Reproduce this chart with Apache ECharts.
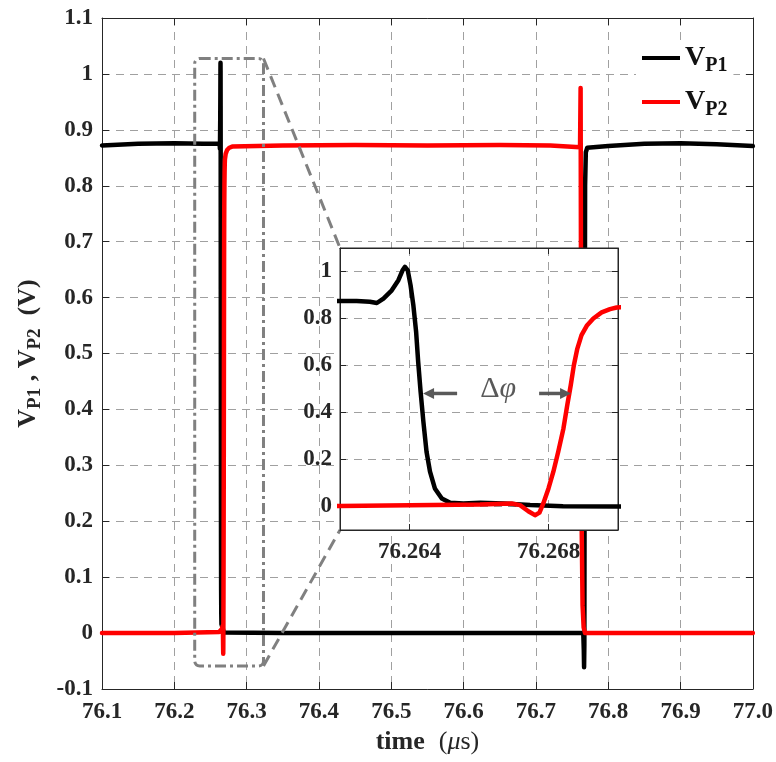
<!DOCTYPE html>
<html><head><meta charset="utf-8">
<script src="https://cdn.jsdelivr.net/npm/echarts@6/dist/echarts.min.js"></script>
<style>html,body{margin:0;padding:0;background:#fff}#c{width:776px;height:762px}</style>
</head><body><div id="c"></div>
<script>
// ---------- data (time in µs, voltage in V) ----------
const tP1 = [76.100, 76.150, 76.200, 76.240, 76.2620, 76.26248, 76.26286, 76.26306, 76.26325, 76.26349, 76.26368, 76.26380, 76.26387, 76.26395, 76.26403, 76.26411, 76.26419, 76.26425, 76.26432, 76.26440, 76.26449, 76.26459, 76.26473, 76.26493, 76.26517, 76.26555, 76.26603, 76.26670, 76.26747, 76.26842, 76.26996, 76.350, 76.450, 76.550, 76.650, 76.7655, 76.7662, 76.7666, 76.7670, 76.7675, 76.7680, 76.7690, 76.7710, 76.800, 76.850, 76.900, 76.950, 77.000];
const vP1 = [0.872, 0.875, 0.876, 0.875, 0.875, 0.874, 0.871, 0.866, 0.885, 0.920, 0.963, 1.005, 1.020, 1.005, 0.942, 0.857, 0.744, 0.615, 0.488, 0.360, 0.233, 0.148, 0.077, 0.034, 0.016, 0.013, 0.016, 0.013, 0.006, 0.001, 0.000, 0.000, 0.000, 0.000, 0.000, 0.000, -0.030, -0.061, -0.020, 0.450, 0.800, 0.860, 0.868, 0.871, 0.875, 0.876, 0.874, 0.871];
const tP2 = [76.100, 76.200, 76.2620, 76.26603, 76.26694, 76.26718, 76.26742, 76.26761, 76.26774, 76.26785, 76.26800, 76.26814, 76.26828, 76.26843, 76.26854, 76.26864, 76.26873, 76.26883, 76.26895, 76.26910, 76.26929, 76.26953, 76.26977, 76.26996, 76.2710, 76.2730, 76.2760, 76.2800, 76.350, 76.450, 76.550, 76.650, 76.720, 76.7610, 76.7618, 76.7624, 76.7632, 76.7645, 76.7660, 76.7680, 76.7700, 76.800, 76.900, 77.000];
const vP2 = [0.000, 0.000, 0.002, 0.008, 0.013, 0.006, -0.020, -0.037, -0.026, 0.013, 0.077, 0.148, 0.233, 0.332, 0.431, 0.516, 0.601, 0.672, 0.729, 0.769, 0.800, 0.826, 0.840, 0.847, 0.857, 0.864, 0.868, 0.870, 0.872, 0.873, 0.872, 0.873, 0.872, 0.869, 0.975, 0.600, 0.200, 0.050, 0.010, 0.000, 0.000, 0.000, 0.000, 0.000];
const seriesNames = ['VP1', 'VP2'];
const mainXRange = [76.1, 77.0];
const mainYRange = [-0.1, 1.1];
const mainStep = 0.1;
const insetXRange = [76.262, 76.270];
const insetYRange = [-0.1, 1.1];
const insetXTicks = [76.264, 76.268];
const insetYTicks = [0, 0.2, 0.4, 0.6, 0.8, 1.0];
// zoom rectangle in main data coords: [xmin, xmax, ymin, ymax]
const zoomBox = [76.2282, 76.3233, -0.0587, 1.0276];
// delta-phi annotation (inset coords): left arrow, right arrow, label
const arrowLeft = [[76.26537, 0.481], [76.26439, 0.481]];
const arrowRight = [[76.26773, 0.481], [76.26865, 0.481]];
const dphiLabelAt = [76.26655, 0.50];

// ---------- chart ----------
const FONT = '"Liberation Serif","Times New Roman",serif';
const AX = '#262626';
const GRIDC = '#a0a0a0';
const pairs = (t, v) => t.map((x, i) => [x, v[i]]);
const dP1 = pairs(tP1, vP1), dP2 = pairs(tP2, vP2);
const fmt1 = v => String(Math.round(v * 10) / 10);

const lblStyle = {fontFamily: FONT, fontWeight: 'bold', fontSize: 23, color: '#262626'};

const chart = echarts.init(document.getElementById('c'), null, {renderer: 'canvas'});

const option = {
  animation: false,
  backgroundColor: '#fff',
  grid: [
    {left: 102, top: 18, width: 653, height: 671, show: false},
    {left: 340, top: 248, width: 278, height: 282, show: true, backgroundColor: '#fff', borderColor: AX, borderWidth: 1, z: 10}
  ],
  legend: {
    data: seriesNames, orient: 'vertical', left: 636, top: 40,
    icon: 'rect', itemWidth: 38, itemHeight: 4, itemGap: 12,
    backgroundColor: '#fff', padding: [4, 6, 4, 6], z: 20,
    formatter: n => '{v|V}{s|' + n.slice(1) + '}',
    textStyle: {
      rich: {
        v: {fontFamily: FONT, fontWeight: 'bold', fontSize: 28, color: '#111', lineHeight: 36, verticalAlign: 'middle'},
        s: {fontFamily: FONT, fontWeight: 'bold', fontSize: 20, color: '#111', lineHeight: 36, verticalAlign: 'bottom'}
      }
    }
  },
  xAxis: [
    {type: 'value', gridIndex: 0, position: 'bottom', min: mainXRange[0], max: mainXRange[1], interval: mainStep,
     axisLine: {show: true, onZero: false, lineStyle: {color: AX, width: 1}},
     axisTick: {show: true, inside: true, length: 7, lineStyle: {color: AX}},
     axisLabel: Object.assign({margin: 12, formatter: v => v.toFixed(1)}, lblStyle),
     splitLine: {show: true, lineStyle: {color: GRIDC, type: [8, 6], width: 1}},
     name: '{b|time}{g| }{r|(}{i|\u03bc}{r|s)}', nameLocation: 'middle', nameGap: 35,
     nameTextStyle: {rich: {
       b: {fontFamily: FONT, fontWeight: 'bold', fontSize: 26, color: '#262626'},
       g: {fontFamily: FONT, fontSize: 26, width: 14},
       r: {fontFamily: FONT, fontSize: 26, color: '#262626'},
       i: {fontFamily: FONT, fontStyle: 'italic', fontSize: 26, color: '#262626'}
     }}},
    {type: 'value', gridIndex: 0, position: 'top', min: mainXRange[0], max: mainXRange[1], interval: mainStep,
     axisLine: {show: true, onZero: false, lineStyle: {color: AX, width: 1}},
     axisTick: {show: true, inside: true, length: 7, lineStyle: {color: AX}},
     axisLabel: {show: false}, splitLine: {show: false}},
    {type: 'value', gridIndex: 1, position: 'bottom', min: insetXRange[0], max: insetXRange[1], z: 12,
     axisLine: {show: true, onZero: false, lineStyle: {color: AX, width: 1}},
     axisTick: {show: true, inside: true, length: 6, customValues: insetXTicks, lineStyle: {color: AX}},
     axisLabel: Object.assign({margin: 11, customValues: insetXTicks, formatter: v => v.toFixed(3)}, lblStyle),
     splitLine: {show: true, lineStyle: {color: GRIDC, type: [8, 6], width: 1}}},
    {type: 'value', gridIndex: 1, position: 'top', min: insetXRange[0], max: insetXRange[1], z: 12,
     axisLine: {show: true, onZero: false, lineStyle: {color: AX, width: 1}},
     axisTick: {show: true, inside: true, length: 6, customValues: insetXTicks, lineStyle: {color: AX}},
     axisLabel: {show: false}, splitLine: {show: false}}
  ],
  yAxis: [
    {type: 'value', gridIndex: 0, position: 'left', min: mainYRange[0], max: mainYRange[1], interval: mainStep,
     axisLine: {show: true, onZero: false, lineStyle: {color: AX, width: 1}},
     axisTick: {show: true, inside: true, length: 7, lineStyle: {color: AX}},
     axisLabel: Object.assign({margin: 9, formatter: fmt1}, lblStyle),
     splitLine: {show: true, lineStyle: {color: GRIDC, type: [8, 6], width: 1}},
     name: '{v|V}{s|P1}{v| , V}{s|P2}{v|  (V)}', nameLocation: 'middle', nameRotate: 90, nameGap: 57,
     nameTextStyle: {rich: {
       v: {fontFamily: FONT, fontWeight: 'bold', fontSize: 26, color: '#262626', lineHeight: 34, verticalAlign: 'middle'},
       s: {fontFamily: FONT, fontWeight: 'bold', fontSize: 19, color: '#262626', lineHeight: 34, verticalAlign: 'bottom'}
     }}},
    {type: 'value', gridIndex: 0, position: 'right', min: mainYRange[0], max: mainYRange[1], interval: mainStep,
     axisLine: {show: true, onZero: false, lineStyle: {color: AX, width: 1}},
     axisTick: {show: true, inside: true, length: 7, lineStyle: {color: AX}},
     axisLabel: {show: false}, splitLine: {show: false}},
    {type: 'value', gridIndex: 1, position: 'left', min: insetYRange[0], max: insetYRange[1], z: 12,
     axisLine: {show: true, onZero: false, lineStyle: {color: AX, width: 1}},
     axisTick: {show: true, inside: true, length: 6, customValues: insetYTicks, lineStyle: {color: AX}},
     axisLabel: Object.assign({margin: 8, customValues: insetYTicks, formatter: fmt1}, lblStyle),
     splitLine: {show: true, lineStyle: {color: GRIDC, type: [8, 6], width: 1}}},
    {type: 'value', gridIndex: 1, position: 'right', min: insetYRange[0], max: insetYRange[1], z: 12,
     axisLine: {show: true, onZero: false, lineStyle: {color: AX, width: 1}},
     axisTick: {show: true, inside: true, length: 6, customValues: insetYTicks, lineStyle: {color: AX}},
     axisLabel: {show: false}, splitLine: {show: false}}
  ],
  series: [
    {name: 'VP1', type: 'line', xAxisIndex: 0, yAxisIndex: 0, data: dP1, showSymbol: false, symbol: 'none', z: 3,
     color: '#000', lineStyle: {color: '#000', width: 4.5, join: 'round', cap: 'round'}},
    {name: 'VP2', type: 'line', xAxisIndex: 0, yAxisIndex: 0, data: dP2, showSymbol: false, symbol: 'none', z: 4,
     color: '#ff0000', lineStyle: {color: '#ff0000', width: 4.5, join: 'round', cap: 'round'}},
    {name: 'VP1', type: 'line', xAxisIndex: 2, yAxisIndex: 2, data: dP1, showSymbol: false, symbol: 'none', z: 13, clip: true,
     color: '#000', lineStyle: {color: '#000', width: 4.5, join: 'round'}},
    {name: 'VP2', type: 'line', xAxisIndex: 2, yAxisIndex: 2, data: dP2, showSymbol: false, symbol: 'none', z: 14, clip: true,
     color: '#ff0000', lineStyle: {color: '#ff0000', width: 4.5, join: 'round'}}
  ]
};
chart.setOption(option);

// ---------- annotations (positions via the library's scales) ----------
const pm = (x, y) => chart.convertToPixel({xAxisIndex: 0, yAxisIndex: 0}, [x, y]);
const pi = (x, y) => chart.convertToPixel({xAxisIndex: 2, yAxisIndex: 2}, [x, y]);
const b1 = pm(zoomBox[0], zoomBox[3]);
const b2 = pm(zoomBox[1], zoomBox[2]);
const i1 = pi(insetXRange[0], insetYRange[1]);
const i2 = pi(insetXRange[0], insetYRange[0]);
const GRAY = '#808080', AG = '#595959';
function arrowEls(a) {
  const s = pi(a[0][0], a[0][1]), e = pi(a[1][0], a[1][1]);
  const dir = Math.sign(e[0] - s[0]);
  const L = 11, W = 5.5;
  return [
    {type: 'line', z: 30, shape: {x1: s[0], y1: s[1], x2: e[0] - dir * L * 0.8, y2: e[1]}, style: {stroke: AG, lineWidth: 3.5}},
    {type: 'polygon', z: 30, shape: {points: [[e[0], e[1]], [e[0] - dir * L, e[1] - W], [e[0] - dir * L, e[1] + W]]}, style: {fill: AG}}
  ];
}
const lab = pi(dphiLabelAt[0], dphiLabelAt[1]);
chart.setOption({
  graphic: [
    {type: 'rect', z: 8, shape: {x: b1[0], y: b1[1], width: b2[0] - b1[0], height: b2[1] - b1[1], r: 5},
     style: {fill: 'none', stroke: GRAY, lineWidth: 3, lineDash: [11, 4, 3, 4]}},
    {type: 'line', z: 8, shape: {x1: b2[0], y1: b1[1], x2: i1[0], y2: i1[1]}, style: {stroke: GRAY, lineWidth: 3, lineDash: [12, 7]}},
    {type: 'line', z: 8, shape: {x1: b2[0], y1: b2[1], x2: i2[0], y2: i2[1]}, style: {stroke: GRAY, lineWidth: 3, lineDash: [12, 7]}},
    ...arrowEls(arrowLeft), ...arrowEls(arrowRight),
    {type: 'text', z: 30, x: lab[0], y: lab[1],
     style: {text: '{d|\u0394}{f|\u03c6}', align: 'center', verticalAlign: 'middle',
       rich: {d: {fontFamily: FONT, fontSize: 30, fill: AG}, f: {fontFamily: FONT, fontStyle: 'italic', fontSize: 30, fill: AG}}}}
  ]
});
</script></body></html>
